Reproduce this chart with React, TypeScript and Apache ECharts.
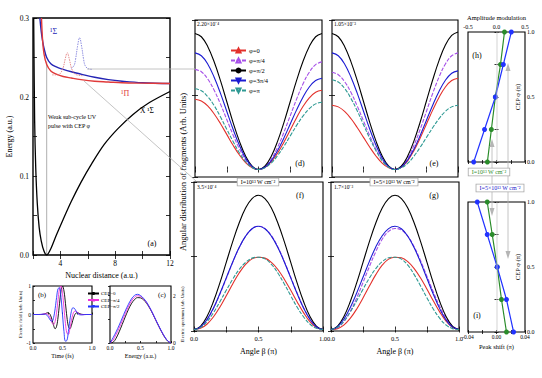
import React, { useEffect, useRef } from "react";
import * as echarts from "echarts";

const FONT = '"Liberation Serif", "Times New Roman", Times, serif';

// ---------------- Panel (a): potential energy curves ----------------
const groundR = [2.05, 2.12, 2.2, 2.31, 2.45, 2.6, 2.8, 3.0, 3.3, 3.7, 4.2, 4.8, 5.5, 6.3, 7.2, 8.2, 9.3, 10.5, 12];
const groundE = [0.30, 0.17, 0.11, 0.066, 0.035, 0.018, 0.005, 0.0, 0.008, 0.025, 0.045, 0.068, 0.092, 0.116, 0.140, 0.160, 0.178, 0.193, 0.207];
const sigmaR = [2.5, 2.6, 2.7, 2.8, 3.0, 3.3, 3.7, 4.2, 4.8, 5.5, 6.5, 7.5, 8.5, 10, 12];
const sigmaE = [0.300, 0.283, 0.271, 0.262, 0.250, 0.242, 0.238, 0.235, 0.232, 0.229, 0.225, 0.222, 0.220, 0.218, 0.217];
const piR = [2.62, 2.7, 2.8, 3.0, 3.3, 3.7, 4.2, 4.8, 5.5, 6.5, 7.5, 8.5, 10, 12];
const piE = [0.300, 0.272, 0.255, 0.241, 0.233, 0.229, 0.226, 0.224, 0.222, 0.220, 0.219, 0.218, 0.2175, 0.217];
const redPulseR = [3.4, 3.8, 4.0, 4.2, 4.35, 4.5, 4.65, 4.8, 5.0, 5.2, 5.6];
const redPulseE = [0.228, 0.228, 0.230, 0.237, 0.248, 0.256, 0.248, 0.237, 0.230, 0.228, 0.227];
const bluePulseR = [4.8, 5.0, 5.1, 5.25, 5.4, 5.55, 5.7, 5.8, 6.0, 6.3];
const bluePulseE = [0.236, 0.240, 0.247, 0.264, 0.275, 0.264, 0.247, 0.240, 0.236, 0.235];
const cepLineR = [3.0, 3.0];
const cepLineE = [0.0, 0.245];

// ---------------- Panel (b): electric field ----------------
const timeB = [0, 0.1, 0.15, 0.175, 0.2, 0.225, 0.25, 0.275, 0.3, 0.325, 0.35, 0.375, 0.4, 0.425, 0.45, 0.475, 0.5,
  0.525, 0.55, 0.575, 0.6, 0.625, 0.65, 0.675, 0.7, 0.725, 0.75, 0.775, 0.8, 0.825, 0.85, 0.9, 1.0];
const fieldCep0 = [0, 0, 0, 0.007, 0.023, 0.046, 0.061, 0.042, -0.044, -0.203, -0.389, -0.499, -0.415, -0.089, 0.392, 0.826, 1.0,
  0.826, 0.392, -0.089, -0.415, -0.499, -0.389, -0.203, -0.044, 0.042, 0.061, 0.046, 0.023, 0.007, 0, 0, 0];
const fieldCep1 = [0, 0, 0.005, 0.014, 0.025, 0.030, 0.009, -0.058, -0.173, -0.301, -0.355, -0.240, 0.078, 0.521, 0.895, 0.999, 0.742,
  0.228, -0.313, -0.653, -0.694, -0.500, -0.224, 0, 0.109, 0.121, 0.082, 0.038, 0.008, -0.003, -0.005, 0, 0];
const fieldCep2 = [0, 0, 0.008, 0.013, 0.012, -0.006, -0.056, -0.138, -0.219, -0.233, -0.102, 0.201, 0.598, 0.909, 0.936, 0.597, 0,
  -0.597, -0.936, -0.909, -0.598, -0.201, 0.102, 0.233, 0.219, 0.138, 0.056, 0.006, -0.012, -0.013, -0.008, 0, 0];

// ---------------- Panel (c): spectrum ----------------
const energyC = [0, 0.05, 0.1, 0.15, 0.2, 0.25, 0.3, 0.35, 0.4, 0.45, 0.5, 0.55, 0.6, 0.65, 0.7, 0.75, 0.8, 0.85, 0.9, 0.95, 1.0];
const specCep0 = [0, 0.03, 0.2, 0.47, 0.78, 1.1, 1.4, 1.65, 1.82, 1.91, 1.9, 1.82, 1.67, 1.47, 1.23, 0.96, 0.7, 0.45, 0.23, 0.07, 0];
const specCep1 = [0, 0.12, 0.36, 0.63, 0.93, 1.23, 1.52, 1.76, 1.92, 1.99, 1.96, 1.86, 1.7, 1.49, 1.24, 0.97, 0.71, 0.46, 0.24, 0.08, 0];
const specCep2 = [0, 0.22, 0.47, 0.75, 1.05, 1.35, 1.62, 1.85, 2.0, 2.05, 2.0, 1.88, 1.72, 1.5, 1.25, 0.98, 0.72, 0.47, 0.25, 0.08, 0];

// ---------------- Panels (d)-(g): angular distributions ----------------
const beta = [0, 0.05, 0.1, 0.15, 0.2, 0.25, 0.3, 0.35, 0.4, 0.45, 0.5, 0.55, 0.6, 0.65, 0.7, 0.75, 0.8, 0.85, 0.9, 0.95, 1.0];
const phiNames = ["φ=0", "φ=π/4", "φ=π/2", "φ=3π/4", "φ=π"];

const dRed = [0.47, 0.458, 0.425, 0.373, 0.308, 0.235, 0.162, 0.097, 0.045, 0.012, 0, 0.013, 0.051, 0.109, 0.183, 0.265, 0.347, 0.421, 0.479, 0.517, 0.53];
const dPurple = [0.67, 0.654, 0.606, 0.532, 0.439, 0.335, 0.231, 0.138, 0.064, 0.016, 0, 0.018, 0.069, 0.148, 0.249, 0.36, 0.471, 0.572, 0.651, 0.702, 0.72];
const dBlack = [0.91, 0.888, 0.823, 0.722, 0.596, 0.455, 0.314, 0.188, 0.087, 0.022, 0, 0.022, 0.087, 0.188, 0.314, 0.455, 0.596, 0.722, 0.823, 0.888, 0.91];
const dBlue = [0.78, 0.761, 0.706, 0.619, 0.511, 0.39, 0.269, 0.161, 0.074, 0.019, 0, 0.015, 0.058, 0.126, 0.211, 0.305, 0.399, 0.484, 0.552, 0.595, 0.61];
const dTeal = [0.54, 0.527, 0.488, 0.429, 0.353, 0.27, 0.187, 0.111, 0.052, 0.013, 0, 0.011, 0.043, 0.093, 0.155, 0.225, 0.295, 0.357, 0.407, 0.439, 0.45];

const eRed = [0.43, 0.419, 0.389, 0.341, 0.281, 0.215, 0.149, 0.089, 0.041, 0.011, 0, 0.015, 0.058, 0.126, 0.211, 0.305, 0.399, 0.484, 0.552, 0.595, 0.61];
const ePurple = [0.65, 0.634, 0.588, 0.516, 0.425, 0.325, 0.225, 0.134, 0.062, 0.016, 0, 0.019, 0.074, 0.161, 0.269, 0.39, 0.511, 0.619, 0.706, 0.761, 0.78];
const eBlack = [0.91, 0.888, 0.823, 0.722, 0.596, 0.455, 0.314, 0.188, 0.087, 0.022, 0, 0.023, 0.088, 0.19, 0.318, 0.46, 0.602, 0.73, 0.832, 0.897, 0.92];
const eBlue = [0.78, 0.761, 0.706, 0.619, 0.511, 0.39, 0.269, 0.161, 0.074, 0.019, 0, 0.016, 0.063, 0.136, 0.228, 0.33, 0.432, 0.524, 0.597, 0.644, 0.66];
const eTeal = [0.6, 0.585, 0.543, 0.476, 0.393, 0.3, 0.207, 0.124, 0.057, 0.015, 0, 0.011, 0.041, 0.089, 0.149, 0.215, 0.281, 0.341, 0.389, 0.419, 0.43];

const fRed = [0, 0.008, 0.036, 0.085, 0.151, 0.229, 0.309, 0.383, 0.442, 0.479, 0.49, 0.484, 0.455, 0.407, 0.341, 0.266, 0.187, 0.113, 0.052, 0.013, 0];
const fPurple = [0, 0.016, 0.064, 0.14, 0.238, 0.346, 0.455, 0.554, 0.632, 0.683, 0.70, 0.684, 0.636, 0.56, 0.462, 0.354, 0.246, 0.148, 0.07, 0.018, 0];
const fBlack = [0, 0.022, 0.087, 0.188, 0.314, 0.455, 0.596, 0.722, 0.823, 0.888, 0.91, 0.888, 0.823, 0.722, 0.596, 0.455, 0.314, 0.188, 0.087, 0.022, 0];
const fBlue = [0, 0.017, 0.067, 0.144, 0.242, 0.35, 0.458, 0.556, 0.633, 0.683, 0.70, 0.683, 0.633, 0.556, 0.458, 0.35, 0.242, 0.144, 0.067, 0.017, 0];
const fTeal = [0, 0.013, 0.052, 0.113, 0.187, 0.266, 0.341, 0.407, 0.455, 0.484, 0.49, 0.479, 0.442, 0.383, 0.309, 0.229, 0.151, 0.085, 0.036, 0.008, 0];

const gRed = [0, 0.006, 0.03, 0.075, 0.138, 0.214, 0.295, 0.372, 0.436, 0.477, 0.49, 0.486, 0.46, 0.413, 0.349, 0.273, 0.193, 0.118, 0.055, 0.014, 0];
const gPurple = [0, 0.012, 0.053, 0.122, 0.213, 0.318, 0.427, 0.528, 0.612, 0.665, 0.685, 0.675, 0.632, 0.56, 0.466, 0.36, 0.254, 0.156, 0.077, 0.022, 0];
const gBlack = [0, 0.022, 0.087, 0.188, 0.314, 0.455, 0.596, 0.722, 0.823, 0.888, 0.91, 0.888, 0.823, 0.722, 0.596, 0.455, 0.314, 0.188, 0.087, 0.022, 0];
const gBlue = [0, 0.018, 0.069, 0.148, 0.246, 0.354, 0.462, 0.56, 0.636, 0.684, 0.70, 0.683, 0.632, 0.554, 0.455, 0.346, 0.238, 0.14, 0.064, 0.016, 0];
const gTeal = [0, 0.014, 0.055, 0.118, 0.193, 0.273, 0.349, 0.413, 0.46, 0.486, 0.49, 0.477, 0.436, 0.372, 0.295, 0.214, 0.138, 0.075, 0.03, 0.006, 0];

const scaleLabels = ["2.20×10⁻⁴", "1.05×10⁻³", "3.5×10⁻⁴", "1.7×10⁻³"];

// ---------------- Panels (h), (i) ----------------
const cep = [0, 0.25, 0.5, 0.75, 1.0];
const ampLow = [-0.16, -0.09, -0.02, 0.07, 0.14];
const ampHigh = [-0.40, -0.21, -0.02, 0.12, 0.26];
const shiftLow = [0.014, 0.007, 0.001, -0.006, -0.013];
const shiftHigh = [0.024, 0.014, 0.001, -0.013, -0.027];

const RED = "#e3302b";
const PURPLE = "#a650e8";
const BLUE = "#1c1cd2";
const TEAL = "#2f9a94";
const MAGENTA = "#f030d8";
const BBLUE = "#2233ff";
const GREEN = "#2a8c2a";
const DOWN = "path://M0,0L10,0L5,9Z";

const zip = (xs: number[], ys: number[]) => xs.map((x, i) => [x, ys[i]]);
const nts = (s: number) => ({ fontSize: s, fontFamily: FONT, color: "#000", fontWeight: "normal" });
const clean = (v: number, d: number) => {
  const r = Math.round(v * Math.pow(10, d)) / Math.pow(10, d);
  return Math.abs(r) < 1e-9 ? (0).toFixed(d) : r.toFixed(d);
};

const mk = (gridIndex: number, position: string, min: number, max: number, interval: number, extra: any = {}, tickLen = 3) => ({
  type: "value",
  gridIndex,
  position,
  min,
  max,
  interval,
  axisLine: { show: false },
  axisTick: { show: true, inside: true, length: tickLen, lineStyle: { color: "#000", width: 0.8 } },
  splitLine: { show: false },
  axisLabel: { show: false },
  ...extra,
});
const lab = (formatter: (v: number) => string, fontSize: number, margin: number) => ({
  show: true,
  formatter,
  fontSize,
  margin,
  color: "#000",
  fontFamily: FONT,
});

function buildOption() {
  const grid = [
    { left: 33, top: 18, width: 137, height: 237 },
    { left: 33, top: 286, width: 59, height: 57 },
    { left: 110, top: 286, width: 61, height: 57 },
    { left: 195, top: 20, width: 127, height: 157 },
    { left: 332, top: 20, width: 126, height: 157 },
    { left: 194, top: 182, width: 129, height: 149 },
    { left: 331, top: 182, width: 128, height: 149 },
    { left: 468, top: 32, width: 57, height: 130 },
    { left: 468, top: 202, width: 57, height: 130 },
  ].map((g, i) => ({ ...g, show: true, borderColor: "#000", borderWidth: i === 0 ? 1.4 : 1.1, backgroundColor: "transparent" }));

  const halfFmt = (v: number) => (Math.round(v * 100) % 50 === 0 ? clean(v, 1) : "");

  const xAxis = [
    mk(0, "bottom", 2, 12, 2, {
      axisLabel: lab((v) => (Math.round(v) % 4 === 0 ? String(Math.round(v)) : ""), 7.5, 4),
      name: "Nuclear distance (a.u.)", nameLocation: "middle", nameGap: 14, nameTextStyle: nts(8),
    }, 4),
    mk(0, "top", 2, 12, 2, {}, 4),
    mk(1, "bottom", 0, 1, 0.25, {
      axisLabel: lab(halfFmt, 5.5, 2),
      name: "Time (fs)", nameLocation: "middle", nameGap: 10, nameTextStyle: nts(6),
    }, 2),
    mk(2, "bottom", 0, 1, 0.25, {
      axisLabel: lab(halfFmt, 5.5, 2),
      name: "Energy (a.u.)", nameLocation: "middle", nameGap: 10, nameTextStyle: nts(6),
    }, 2),
    mk(3, "bottom", 0, 1, 0.25),
    mk(3, "top", 0, 1, 0.25),
    mk(4, "bottom", 0, 1, 0.25),
    mk(4, "top", 0, 1, 0.25),
    mk(5, "bottom", 0, 1, 0.25, {
      axisLabel: lab(halfFmt, 6.5, 4),
      name: "Angle β (π)", nameLocation: "middle", nameGap: 16, nameTextStyle: nts(8),
    }),
    mk(5, "top", 0, 1, 0.25),
    mk(6, "bottom", 0, 1, 0.25, {
      axisLabel: lab(halfFmt, 6.5, 4),
      name: "Angle β (π)", nameLocation: "middle", nameGap: 16, nameTextStyle: nts(8),
    }),
    mk(6, "top", 0, 1, 0.25),
    mk(7, "top", -0.5, 0.5, 0.25, {
      axisLabel: lab(halfFmt, 6, 2),
      name: "Amplitude modulation", nameLocation: "middle", nameGap: 11, nameTextStyle: nts(6.5),
    }, 2),
    mk(7, "bottom", -0.5, 0.5, 0.25, {}, 2),
    mk(8, "bottom", -0.04, 0.04, 0.02, {
      axisLabel: lab((v) => (Math.round(v * 100) % 4 === 0 ? clean(v, 2) : ""), 5.5, 2),
      name: "Peak shift (π)", nameLocation: "middle", nameGap: 11, nameTextStyle: nts(6.5),
    }, 2),
    mk(8, "top", -0.04, 0.04, 0.02, {}, 2),
  ];

  const yAxis = [
    mk(0, "left", 0, 0.3, 0.05, {
      axisLabel: lab((v) => (Math.round(v * 100) % 10 === 0 ? clean(v, 1) : ""), 7.5, 4),
      name: "Energy (a.u.)", nameLocation: "middle", nameGap: 20, nameRotate: 90, nameTextStyle: nts(8),
    }, 4),
    mk(0, "right", 0, 0.3, 0.05, {}, 4),
    mk(1, "left", -1, 1, 0.5, {
      axisLabel: lab((v) => (Math.abs(v - Math.round(v)) < 1e-9 ? String(Math.round(v)) : ""), 5.5, 2),
      name: "Electric field (Arb. Units)", nameLocation: "middle", nameGap: 8, nameRotate: 90, nameTextStyle: nts(4.6),
    }, 2),
    mk(2, "right", 0, 2.4, 1, {
      axisLabel: lab((v) => (Math.abs(v) < 1e-9 || Math.abs(v - 2) < 1e-9 ? String(Math.round(v)) : ""), 5.5, 2),
      name: "Electric spectrum (Arb. Units)", nameLocation: "middle", nameGap: 9, nameRotate: 90, nameTextStyle: nts(4.6),
    }, 2),
    mk(3, "left", -0.05, 1, 0.55),
    mk(3, "right", -0.05, 1, 0.55),
    mk(4, "left", -0.05, 1, 0.55),
    mk(4, "right", -0.05, 1, 0.55),
    mk(5, "left", -0.01, 1, 0.51),
    mk(5, "right", -0.01, 1, 0.51),
    mk(6, "left", -0.01, 1, 0.51),
    mk(6, "right", -0.01, 1, 0.51),
    mk(7, "right", 0, 1, 0.25, { axisLabel: lab(halfFmt, 6, 2) }, 2),
    mk(7, "left", 0, 1, 0.25, {}, 2),
    mk(8, "right", 0, 1, 0.25, { axisLabel: lab(halfFmt, 6, 2) }, 2),
    mk(8, "left", 0, 1, 0.25, {}, 2),
  ];

  const ln = (name: string, xi: number, yi: number, data: number[][], color: string, extra: any = {}) => ({
    type: "line",
    name,
    xAxisIndex: xi,
    yAxisIndex: yi,
    data,
    showSymbol: false,
    symbol: "none",
    smooth: 0.4,
    lineStyle: { color, width: 1.1 },
    itemStyle: { color },
    emphasis: { disabled: true },
    silent: true,
    ...extra,
  });

  const series: any[] = [];
  // (a)
  series.push(ln("cep", 0, 0, zip(cepLineR, cepLineE), "#9a9a9a", { smooth: false, lineStyle: { color: "#9a9a9a", width: 0.8 } }));
  series.push(ln("X", 0, 0, zip(groundR, groundE), "#000", { smooth: 0.3, lineStyle: { color: "#000", width: 1.3 } }));
  series.push(ln("S", 0, 0, zip(sigmaR, sigmaE), "#2525b5", { lineStyle: { color: "#2525b5", width: 1.4 } }));
  series.push(ln("P", 0, 0, zip(piR, piE), "#e03a3a", { lineStyle: { color: "#e03a3a", width: 1.4 } }));
  series.push(ln("rp", 0, 0, zip(redPulseR, redPulseE), "#e07070", { lineStyle: { color: "#e07070", width: 0.8, type: [1.5, 1] } }));
  series.push(ln("bp", 0, 0, zip(bluePulseR, bluePulseE), "#7070d8", { lineStyle: { color: "#7070d8", width: 0.8, type: [1.5, 1] } }));

  // (b) & (c)
  const cepNames = ["CEP=0", "CEP=π/4", "CEP=π/2"];
  const cepColors = ["#000", MAGENTA, BBLUE];
  const cepSymbols = ["circle", "triangle", DOWN];
  const fields = [fieldCep0, fieldCep1, fieldCep2];
  const specs = [specCep0, specCep1, specCep2];
  for (let i = 0; i < 3; i++) {
    series.push(ln(cepNames[i], 2, 2, zip(timeB, fields[i]), cepColors[i], {
      symbol: cepSymbols[i], symbolSize: 5, lineStyle: { color: cepColors[i], width: 0.9 }, itemStyle: { color: cepColors[i] },
    }));
  }
  for (let i = 0; i < 3; i++) {
    series.push(ln(cepNames[i], 3, 3, zip(energyC, specs[i]), cepColors[i], {
      symbol: cepSymbols[i], symbolSize: 5, lineStyle: { color: cepColors[i], width: 0.9 }, itemStyle: { color: cepColors[i] },
    }));
  }

  // (d)-(g)
  const phiColors = [RED, PURPLE, "#000", BLUE, TEAL];
  const phiSymbols = ["triangle", "triangle", "circle", DOWN, DOWN];
  const phiFill = [RED, "#fff", "#000", BLUE, "#fff"];
  const phiDash: any[] = ["solid", [4, 1.5], "solid", "solid", [4, 1.5]];
  const panels = [
    { xi: 4, yi: 4, sets: [dRed, dPurple, dBlack, dBlue, dTeal] },
    { xi: 6, yi: 6, sets: [eRed, ePurple, eBlack, eBlue, eTeal] },
    { xi: 8, yi: 8, sets: [fRed, fPurple, fBlack, fBlue, fTeal] },
    { xi: 10, yi: 10, sets: [gRed, gPurple, gBlack, gBlue, gTeal] },
  ];
  panels.forEach((p) => {
    p.sets.forEach((vals, k) => {
      series.push(ln(phiNames[k], p.xi, p.yi, zip(beta, vals), phiColors[k], {
        symbol: phiSymbols[k],
        symbolSize: 5,
        lineStyle: { color: phiColors[k], width: 1.1, type: phiDash[k] },
        itemStyle: { color: phiFill[k], borderColor: phiColors[k], borderWidth: 0.9 },
      }));
    });
  });

  // (h), (i)
  const dot = (name: string, xi: number, yi: number, xs: number[], color: string) => ({
    type: "line", name, xAxisIndex: xi, yAxisIndex: yi,
    data: xs.map((x, i) => [x, cep[i]]),
    symbol: "circle", symbolSize: 5, showSymbol: true,
    lineStyle: { color, width: 1.2 }, itemStyle: { color },
    silent: true, emphasis: { disabled: true },
  });
  series.push(dot("hl", 12, 12, ampLow, GREEN));
  series.push(dot("hh", 12, 12, ampHigh, BBLUE));
  series.push(dot("il", 14, 14, shiftLow, GREEN));
  series.push(dot("ih", 14, 14, shiftHigh, BBLUE));

  const T = (x: number, y: number, text: string, size: number, extra: any = {}, styleExtra: any = {}) => ({
    type: "text", x, y, z: 100, silent: true,
    style: {
      text, fontSize: size, fontFamily: FONT, fill: "#000",
      align: "left", verticalAlign: "middle", textAlign: "left", textVerticalAlign: "middle",
      ...styleExtra,
    },
    ...extra,
  });
  const C = { align: "center", textAlign: "center" };
  const L = (x1: number, y1: number, x2: number, y2: number, color = "#b5b5b5", w = 0.8) => ({
    type: "line", z: 50, silent: true, shape: { x1, y1, x2, y2 }, style: { stroke: color, lineWidth: w },
  });
  const tri = (pts: number[][], color = "#b5b5b5") => ({ type: "polygon", z: 50, silent: true, shape: { points: pts }, style: { fill: color } });
  const box = (x: number, y: number, text: string, color: string) =>
    T(x, y, text, 6, {}, { ...C, fill: color, backgroundColor: "#fff", borderColor: "#a8a8a8", borderWidth: 0.8, padding: [1, 3, 0, 3] });

  const graphic = [
    // connectors
    L(87, 69, 195, 69),
    L(84, 81, 196, 181),
    L(497, 32, 497, 162, "#c8c8c8"),
    L(497, 202, 497, 332, "#c8c8c8"),
    L(508, 70, 508, 253),
    L(492, 145, 492, 210),
    tri([[508, 63], [505.5, 71], [510.5, 71]]),
    tri([[492, 139], [489.5, 147], [494.5, 147]]),
    tri([[492, 216], [489.5, 208], [494.5, 208]]),
    tri([[508, 259], [505.5, 251], [510.5, 251]]),
    // panel (a) texts
    T(50, 31, "¹Σ", 8, {}, { fill: "#2525b5" }),
    T(121, 93, "¹Π", 8, {}, { fill: "#e03a3a" }),
    T(140, 110, "X ¹Σ", 7.5),
    T(48, 117, "Weak sub-cycle UV", 6),
    T(48, 126, "pulse with CEP φ", 6),
    T(152, 243, "(a)", 8, {}, C),
    T(42, 295, "(b)", 7, {}, C),
    T(162, 295, "(c)", 7, {}, C),
    T(300, 163, "(d)", 8, {}, C),
    T(434, 163, "(e)", 8, {}, C),
    T(300, 195, "(f)", 8, {}, C),
    T(434, 195, "(g)", 8, {}, C),
    T(477, 55, "(h)", 8, {}, C),
    T(477, 315, "(i)", 8, {}, C),
    T(197, 24, scaleLabels[0], 5.5),
    T(334, 24, scaleLabels[1], 5.5),
    T(197, 187, scaleLabels[2], 5.5),
    T(334, 187, scaleLabels[3], 5.5),
    T(183, 172, "Angular distribution of fragments (Arb. Units)", 8.5, { rotation: Math.PI / 2 }, C),
    T(517, 97, "CEP φ (π)", 6.5, { rotation: Math.PI / 2 }, C),
    T(517, 267, "CEP φ (π)", 6.5, { rotation: Math.PI / 2 }, C),
    box(258, 182, "I=10¹³ W cm⁻²", "#000"),
    box(394, 182, "I=5×10¹³ W cm⁻²", "#000"),
    box(489, 172, "I=10¹³ W cm⁻²", GREEN),
    box(500, 188, "I=5×10¹³ W cm⁻²", "#2222cc"),
  ];

  return {
    animation: false,
    backgroundColor: "#fff",
    textStyle: { fontFamily: FONT },
    grid,
    xAxis,
    yAxis,
    series,
    legend: [
      {
        data: phiNames,
        left: 230, top: 47, orient: "vertical",
        itemWidth: 15, itemHeight: 5, itemGap: 3, padding: 0,
        selectedMode: false,
        textStyle: { fontSize: 6.5, fontFamily: FONT, color: "#000", padding: [0, 0, 0, -2] },
      },
      {
        data: cepNames,
        left: 87, top: 291, orient: "vertical",
        itemWidth: 11, itemHeight: 4, itemGap: 1.5, padding: 0,
        selectedMode: false,
        textStyle: { fontSize: 5, fontFamily: FONT, color: "#000", padding: [0, 0, 0, -3] },
      },
    ],
    graphic,
  };
}

export default function App() {
  const ref = useRef<HTMLDivElement>(null);
  useEffect(() => {
    if (!ref.current) return;
    const chart = echarts.init(ref.current, null, { renderer: "svg" });
    chart.setOption(buildOption() as any);
    return () => chart.dispose();
  }, []);
  return (
    <div
      ref={ref}
      style={{ position: "fixed", left: 0, top: 0, width: 542, height: 378, background: "#fff" }}
    />
  );
}
